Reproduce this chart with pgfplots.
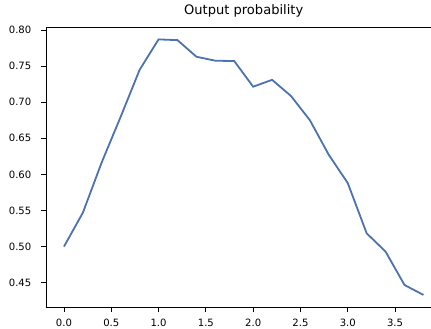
\documentclass[border=0pt]{standalone}
\usepackage{fontspec}
\setmainfont{DejaVu Sans}
\usepackage{pgfplots}
\pgfplotsset{compat=1.18}
\definecolor{lineblue}{HTML}{4C72B0}
\begin{document}
\begin{tikzpicture}
\begin{axis}[
  scale only axis,
  width=395.4bp, height=280bp,
  xmin=-0.19, xmax=3.99,
  ymin=0.4163, ymax=0.8042,
  axis line style={black, line width=0.9bp},
  tick pos=left,
  tick align=outside,
  major tick length=4.5bp,
  every tick/.style={black, line width=0.9bp},
  xtick={0,0.5,...,3.5},
  ytick={0.45,0.50,...,0.80},
  /pgf/number format/assume math mode=true,
  xticklabel style={/pgf/number format/fixed, /pgf/number format/fixed zerofill, /pgf/number format/precision=1, yshift=-7bp},
  yticklabel style={/pgf/number format/fixed, /pgf/number format/fixed zerofill, /pgf/number format/precision=2, xshift=-10bp},
  every tick label/.append style={font=\fontsize{10.1}{12}\selectfont, inner sep=0pt},
  title={Output probability},
  title style={font=\fontsize{13.1}{15}\selectfont, at={(0.5,1)}, anchor=base, yshift=6.7bp, inner sep=0pt},
]
\addplot[lineblue, line width=1.8bp, mark=none] coordinates {
(0.0,0.500) (0.2,0.547) (0.4,0.617) (0.6,0.680) (0.8,0.745)
(1.0,0.787) (1.2,0.786) (1.4,0.763) (1.6,0.7575) (1.8,0.757)
(2.0,0.7215) (2.2,0.731) (2.4,0.7086) (2.6,0.675) (2.8,0.627)
(3.0,0.588) (3.2,0.5184) (3.4,0.493) (3.6,0.4468) (3.8,0.433)
};
\end{axis}
\pgfresetboundingbox
\path[use as bounding box] ([shift={(-46bp,-22bp)}]current axis.south west) rectangle ([shift={(385bp,307bp)}]current axis.south west);
\end{tikzpicture}
\end{document}
